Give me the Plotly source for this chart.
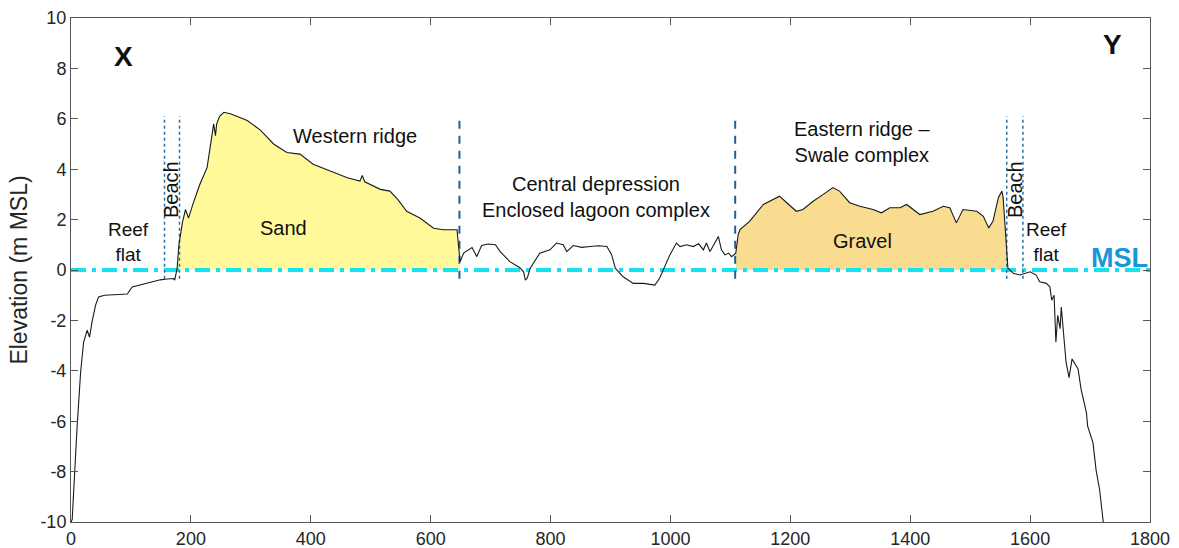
import plotly.graph_objects as go

# ---- data ----
dist = [0, 2, 10, 16, 21, 27, 31, 35, 41, 46, 56, 66, 80, 94, 102, 110, 121, 135, 149, 160, 171, 173,
        177, 180, 186, 191, 196, 205, 215, 227, 235, 238, 241, 243, 248, 255, 266, 280, 294, 316, 338,
        360, 382, 404, 432, 461, 482, 486, 490, 516, 532, 545, 560, 582, 605, 621, 644, 646, 649,
        655, 669, 677, 685, 696, 708, 716, 732, 749, 755, 758, 761, 766, 777, 782, 799, 810, 821, 827,
        838, 852, 866, 880, 894, 897, 902, 908, 921, 938, 955, 974, 982, 999, 1010, 1016, 1027, 1038,
        1047, 1055, 1060, 1066, 1077, 1080, 1085, 1091, 1097, 1102, 1109, 1113, 1116, 1127, 1132, 1155,
        1166, 1182, 1194, 1210, 1221, 1238, 1255, 1271, 1282, 1299, 1316, 1338, 1352, 1366, 1383, 1394,
        1416, 1438, 1455, 1466, 1477, 1488, 1511, 1522, 1531, 1538, 1547, 1553, 1555, 1558, 1563, 1572,
        1583, 1600, 1610, 1616, 1627, 1633, 1636, 1640, 1643, 1646, 1650, 1652, 1656, 1660, 1665, 1670,
        1680, 1685, 1694, 1696, 1705, 1710, 1716, 1722]
elev = [-10.0, -9.9, -6.3, -4.07, -2.87, -2.39, -2.67, -2.07, -1.39, -1.07, -1.0, -0.99, -0.97, -0.95,
        -0.67, -0.62, -0.54, -0.45, -0.39, -0.36, -0.34, -0.40,
        0.06, 1.0, 1.9, 2.4, 2.06, 2.73, 3.4, 4.06, 5.4, 5.8, 5.33, 5.8, 6.1, 6.26, 6.2, 6.06, 5.93, 5.55,
        5.0, 4.66, 4.6, 4.2, 3.93, 3.66, 3.53, 3.75, 3.5, 3.2, 3.13, 2.8, 2.33, 2.06, 1.66, 1.6, 1.6,
        1.13, 0.33,
        0.67, 0.89, 0.53, 0.97, 1.03, 1.0, 0.73, 0.33, 0.09, -0.07, -0.4, -0.33, 0.07, 0.47, 0.67, 0.8,
        1.07, 1.0, 0.73, 0.97, 0.9, 0.93, 0.96, 0.93, 0.8, 0.6, 0.07, -0.27, -0.53, -0.53, -0.6, -0.33,
        0.6, 1.07, 0.93, 1.0, 0.93, 1.04, 0.8, 1.07, 0.73, 1.2, 1.33, 0.8, 0.6, 0.67, 0.53, 0.67, 1.4,
        1.6, 1.85, 1.93, 2.6, 2.73, 2.93, 2.67, 2.33, 2.4, 2.73, 3.0, 3.27, 3.13, 2.67, 2.53, 2.4, 2.27,
        2.47, 2.47, 2.6, 2.2, 2.33, 2.53, 2.47, 1.87, 2.4, 2.33, 2.13, 1.67, 1.93, 2.87, 3.13, 2.87,
        1.93, 0.07, -0.13, -0.2, -0.07, -0.2, -0.47, -0.53, -0.67, -1.2, -1.0, -2.87, -1.8, -2.33,
        -1.47, -2.47, -3.67, -4.27, -3.53, -3.93, -4.73, -5.67, -6.2, -6.87, -7.93, -8.73, -10.0]

sand_range = [177, 649]
gravel_range = [1109, 1563]
zone_bounds = [648, 1108]          # dashed boundaries
beach_bounds = [156, 181, 1561, 1588]  # dotted beach limits
marker_span = [-0.35, 6.1]
msl = 0

x_ticks = [0, 200, 400, 600, 800, 1000, 1200, 1400, 1600, 1800]
y_ticks = [-10, -8, -6, -4, -2, 0, 2, 4, 6, 8, 10]
y_tick_labels = ["-10", "-8", "-6", "-4", "-2", "0", "2", "4", "6", "8", "10"]

FONT = "Liberation Sans, Arial, sans-serif"

fig = go.Figure()

def segment(lo, hi):
    xs = [d for d in dist if lo <= d <= hi]
    ys = [e for d, e in zip(dist, elev) if lo <= d <= hi]
    return xs, ys

sx, sy = segment(*sand_range)
fig.add_trace(go.Scatter(x=[sx[0]] + sx + [sx[-1]], y=[0] + sy + [0], fill="toself",
                         fillcolor="#FFF99A", line=dict(width=0), mode="lines", hoverinfo="skip"))
gx, gy = segment(*gravel_range)
fig.add_trace(go.Scatter(x=[gx[0]] + gx + [gx[-1]], y=[0] + gy + [0], fill="toself",
                         fillcolor="#F9DC90", line=dict(width=0), mode="lines", hoverinfo="skip"))

# MSL line
fig.add_trace(go.Scatter(x=[0, 1800], y=[msl, msl], mode="lines",
                         line=dict(color="#12E3EE", width=4, dash="15px,6px,4px,6px")))

# dashed zone boundaries
for xb in zone_bounds:
    fig.add_trace(go.Scatter(x=[xb, xb], y=marker_span, mode="lines",
                             line=dict(color="#1F5F9A", width=2, dash="8px,7px")))
# dotted beach limits
for xb in beach_bounds:
    fig.add_trace(go.Scatter(x=[xb, xb], y=marker_span, mode="lines",
                             line=dict(color="#2C6FA0", width=1.5, dash="dot")))

# profile
fig.add_trace(go.Scatter(x=dist, y=elev, mode="lines", line=dict(color="#1a1a1a", width=1.1)))

def ann(x, y, text, size=20, bold=False, color="#111111", angle=0):
    fig.add_annotation(x=x, y=y, text=f"<b>{text}</b>" if bold else text, showarrow=False,
                       font=dict(family=FONT, size=size, color=color), textangle=angle,
                       xanchor="center", yanchor="middle", align="center")

ann(88, 8.46, "X", size=28, bold=True)
ann(1737, 8.93, "Y", size=28, bold=True)
ann(96, 1.13, "Reef<br>flat", size=19)
ann(168, 3.2, "Beach", angle=-90)
ann(473, 5.3, "Western ridge")
ann(355, 1.65, "Sand")
ann(876, 2.9, "Central depression<br>Enclosed lagoon complex")
ann(1321, 5.06, "Eastern ridge –<br>Swale complex")
ann(1321, 1.17, "Gravel")
ann(1576, 3.2, "Beach", angle=-90)
ann(1628, 1.13, "Reef<br>flat", size=19)
ann(1749, 0.46, "MSL", size=27, bold=True, color="#1597DA")

fig.update_layout(
    width=1179, height=548, showlegend=False,
    margin=dict(l=71, r=29, t=18, b=26, autoexpand=False),
    paper_bgcolor="white", plot_bgcolor="white",
    font=dict(family=FONT, size=18, color="#262626"),
    xaxis=dict(range=[0, 1800], tickvals=x_ticks, ticks="inside", ticklen=7, tickcolor="#555",
               showline=True, linecolor="#555", linewidth=1, mirror="ticks", automargin=False,
               showgrid=False, zeroline=False, tickfont=dict(size=18)),
    yaxis=dict(range=[-10, 10], tickvals=y_ticks, ticktext=y_tick_labels, ticks="inside", ticklen=7,
               tickcolor="#555", showline=True, linecolor="#555", linewidth=1, mirror="ticks",
               automargin=False, showgrid=False, zeroline=False, tickfont=dict(size=18),
               title=dict(text="Elevation (m MSL)", font=dict(size=23), standoff=6)),
)

fig.write_html("out.html")
